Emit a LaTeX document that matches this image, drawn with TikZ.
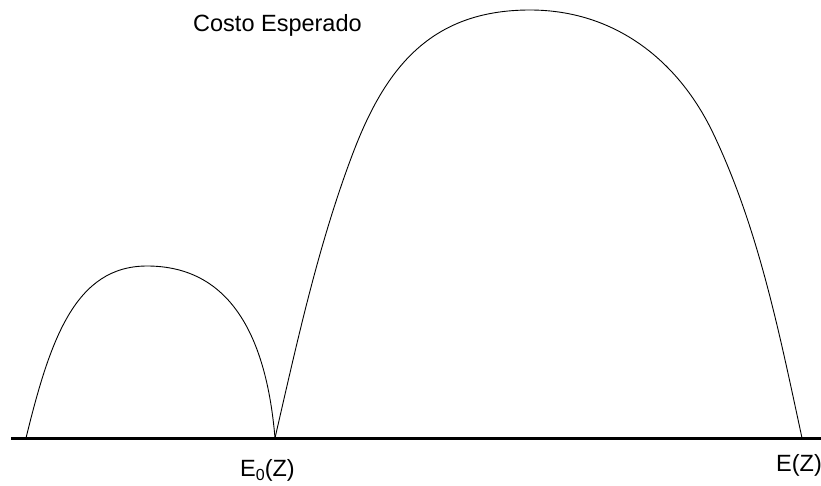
\documentclass[tikz,border=0pt]{standalone}
\usepackage{fontspec}
\setmainfont{Liberation Sans}
\begin{document}
\begin{tikzpicture}[x=1pt,y=-1pt,
  lbl/.style={inner sep=0pt,anchor=base west,font=\fontsize{23.5}{27}\selectfont},
  curve/.style={line width=0.9pt},
  axisline/.style={line width=3pt}]
\useasboundingbox (0,0) rectangle (821,485);
\coordinate (a0) at (26,438);
\coordinate (p1) at (147,266);
\coordinate (e0) at (275,438);
\coordinate (m1) at (353,153);
\coordinate (p2) at (530,10);
\coordinate (m2) at (713,133);
\coordinate (ez) at (802,438);
\draw[axisline] (11,438) -- (821,438);
\draw[curve] (a0) .. controls (50,340) and (75,266) .. (p1)
                  .. controls (220,266) and (265,320) .. (e0);
\draw[curve] (e0) .. controls (297,342.5) and (318.2,244.6) .. (m1)
                  .. controls (385,68.9) and (430,10) .. (p2)
                  .. controls (615,10) and (678.5,60.8) .. (m2)
                  .. controls (758.7,228.6) and (779.6,334.4) .. (ez);
\node[lbl] (title) at (193,31) {Costo Esperado};
\node[lbl] (le0) at (240,476) {E\raisebox{-4pt}{\fontsize{16}{16}\selectfont 0}(Z)};
\node[lbl] (lez) at (776,471) {E(Z)};
\end{tikzpicture}
\end{document}
